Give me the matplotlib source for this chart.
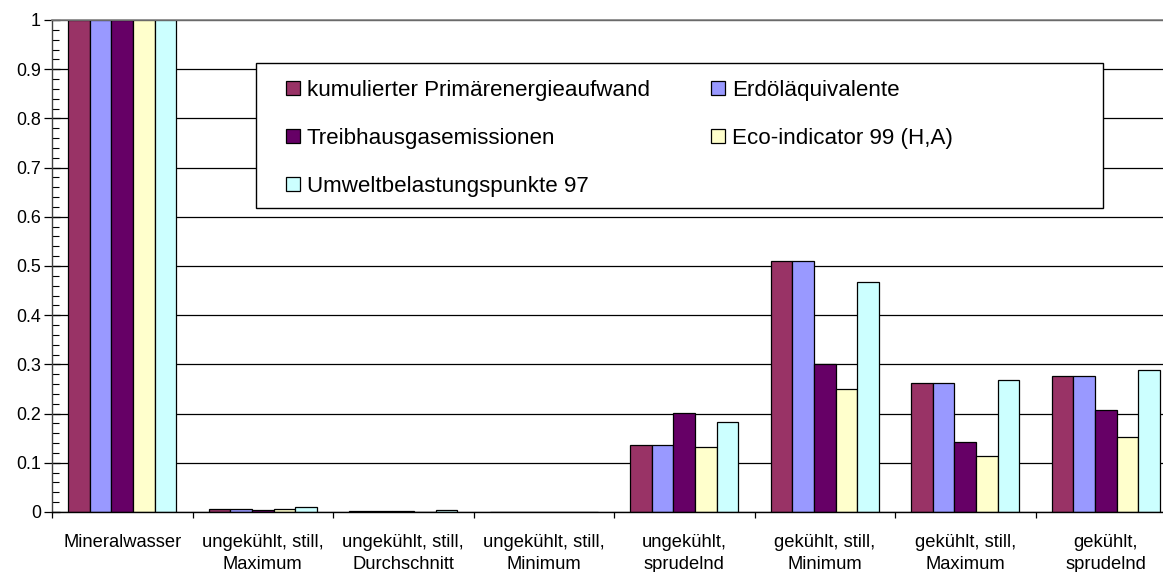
import matplotlib
matplotlib.use("Agg")
import matplotlib.pyplot as plt
from matplotlib.patches import Rectangle
from matplotlib.ticker import MultipleLocator, FixedLocator, NullFormatter
import numpy as np

plt.rcParams['font.family'] = ['Liberation Sans', 'DejaVu Sans']

categories = ["Mineralwasser", "ungekühlt, still,\nMaximum", "ungekühlt, still,\nDurchschnitt",
              "ungekühlt, still,\nMinimum", "ungekühlt,\nsprudelnd", "gekühlt, still,\nMinimum",
              "gekühlt, still,\nMaximum", "gekühlt,\nsprudelnd"]
series_names = ["kumulierter Primärenergieaufwand", "Erdöläquivalente", "Treibhausgasemissionen",
                "Eco-indicator 99 (H,A)", "Umweltbelastungspunkte 97"]
kea = [1.0, 0.0054, 0.002, 0.0008, 0.136, 0.510, 0.262, 0.277]
erdoel = [1.0, 0.0054, 0.002, 0.0008, 0.136, 0.510, 0.262, 0.277]
thg = [1.0, 0.0047, 0.0015, 0.0008, 0.201, 0.301, 0.142, 0.207]
eco99 = [1.0, 0.0054, 0.001, 0.0008, 0.132, 0.250, 0.113, 0.152]
ubp97 = [1.0, 0.0108, 0.004, 0.0010, 0.183, 0.467, 0.268, 0.288]
yticks = [0, 0.1, 0.2, 0.3, 0.4, 0.5, 0.6, 0.7, 0.8, 0.9, 1]
ytick_labels = ["0", "0.1", "0.2", "0.3", "0.4", "0.5", "0.6", "0.7", "0.8", "0.9", "1"]

colors = ["#993366", "#9999FF", "#660066", "#FFFFCC", "#CCFFFF"]
series = [kea, erdoel, thg, eco99, ubp97]

W, H = 1163, 572
fig = plt.figure(figsize=(W / 100, H / 100), dpi=100)
cat_w = 140.5
ax = fig.add_axes([52 / W, (H - 512) / H, 8 * cat_w / W, 492 / H])

bw = 1 / 6.5
x = np.arange(len(categories)) + 0.5
handles = []
for j, (vals, c, name) in enumerate(zip(series, colors, series_names)):
    b = ax.bar(x + (j - 2) * bw, vals, width=bw, color=c, edgecolor="black",
               linewidth=0.9, label=name, zorder=2)
    handles.append(b)

ax.set_xlim(0, len(categories))
ax.set_ylim(0, 1)
ax.set_yticks(yticks)
ax.set_yticklabels(ytick_labels)
ax.yaxis.set_minor_locator(MultipleLocator(0.02))
ax.tick_params(axis='y', which='major', direction='inout', length=12, width=0.9,
               labelsize=12.9, pad=2, colors='black')
ax.tick_params(axis='y', which='minor', direction='in', length=5, width=0.8)
ax.yaxis.grid(True, which='major', color='black', linewidth=0.9)
ax.set_axisbelow(True)

ax.xaxis.set_major_locator(FixedLocator(np.arange(0, len(categories) + 1)))
ax.xaxis.set_major_formatter(NullFormatter())
ax.xaxis.set_minor_locator(FixedLocator(x))
ax.set_xticklabels(categories, minor=True)
ax.tick_params(axis='x', which='major', direction='out', length=4, width=0.9)
ax.tick_params(axis='x', which='minor', length=0, labelsize=13.2, pad=15.5)
for lab in ax.get_xticklabels(minor=True):
    lab.set_linespacing(1.42)
    lab.set_horizontalalignment('center')

ax.spines['right'].set_visible(False)
ax.spines['top'].set_color('#808080')
ax.spines['top'].set_linewidth(1.2)
ax.spines['left'].set_color('#404040')
ax.spines['left'].set_linewidth(1.0)
ax.spines['bottom'].set_color('black')
ax.spines['bottom'].set_linewidth(1.0)

# legend frame
fig.patches.append(Rectangle((256 / W, 1 - 208 / H), (1103 - 256) / W, (208 - 63) / H,
                             transform=fig.transFigure, facecolor='white', edgecolor='black',
                             linewidth=1.0, zorder=5))
order = [0, 2, 4, 1, 3]
fs = 16.1
leg = fig.legend([handles[i] for i in order], [series_names[i] for i in order],
                 ncol=2, frameon=False, fontsize=fs, loc='upper left',
                 bbox_to_anchor=(286 / W, 1 - 80 / H), borderpad=0, borderaxespad=0,
                 handlelength=0.62, handleheight=0.62, handletextpad=0.3,
                 columnspacing=2.75, labelspacing=1.2)
leg.set_zorder(6)

fig.savefig("out.png", dpi=100)
